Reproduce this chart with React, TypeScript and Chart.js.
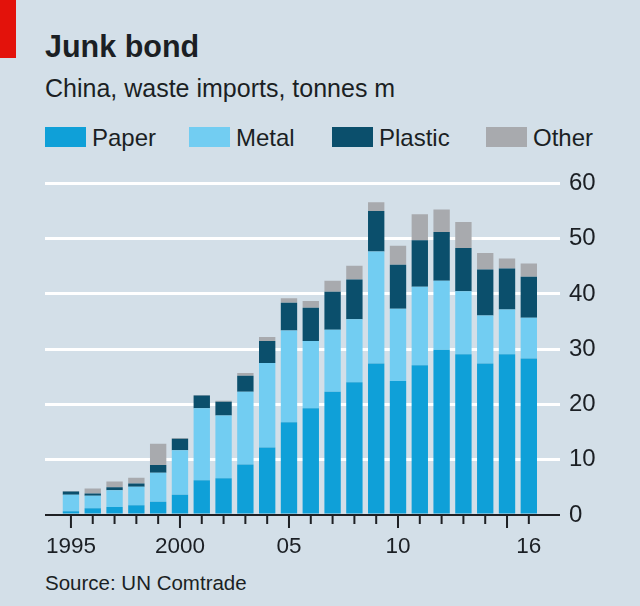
import React, { useEffect, useRef } from "react";
import { Chart, registerables } from "chart.js";

Chart.register(...registerables);

// ---- data (tonnes m) ----
const years = [
  1995, 1996, 1997, 1998, 1999, 2000, 2001, 2002, 2003, 2004, 2005,
  2006, 2007, 2008, 2009, 2010, 2011, 2012, 2013, 2014, 2015, 2016,
];
const paper = [
  0.7, 1.2, 1.45, 1.75, 2.4, 3.65, 6.3, 6.65, 9.15, 12.2, 16.8,
  19.3, 22.3, 24.0, 27.4, 24.25, 27.1, 29.9, 29.1, 27.4, 29.1, 28.3,
];
const metal = [
  2.95, 2.3, 3.05, 3.35, 5.25, 8.05, 13.0, 11.35, 13.15, 15.3, 16.6,
  12.2, 11.2, 11.4, 20.3, 13.05, 14.2, 12.5, 11.4, 8.7, 8.1, 7.4,
];
const plastic = [
  0.6, 0.4, 0.5, 0.6, 1.4, 2.1, 2.3, 2.5, 2.9, 4.0, 5.0,
  6.0, 6.9, 7.2, 7.3, 8.0, 8.4, 8.8, 7.8, 8.3, 7.4, 7.4,
];
const other = [
  0.1, 0.9, 1.05, 1.05, 3.85, 0.15, 0.1, 0.15, 0.5, 0.7, 0.8,
  1.2, 2.0, 2.5, 1.6, 3.4, 4.7, 4.1, 4.7, 3.0, 1.8, 2.4,
];
const seriesNames = ["Paper", "Metal", "Plastic", "Other"];
const yTickValues = [0, 10, 20, 30, 40, 50, 60];
const xTickLabels: Record<number, string> = {
  1995: "1995",
  2000: "2000",
  2005: "05",
  2010: "10",
  2016: "16",
};
const longTickYears = [1995, 2000, 2005, 2010, 2015];

// ---- styles ----
const FONT = "'Liberation Sans', Arial, sans-serif";
const TEXT = "#1b1f24";
const BG = "#d3dfe8";
const COLORS = ["#0fa0d8", "#72cdf2", "#0b4f6c", "#a8aaae"];

const axisPlugin = {
  id: "axisTicks",
  afterDatasetsDraw(chart: any) {
    const { ctx, chartArea, scales } = chart;
    const xs = scales.x;
    const y0 = scales.y.getPixelForValue(0);
    ctx.save();
    ctx.strokeStyle = "#1e2024";
    ctx.lineWidth = 2;
    ctx.beginPath();
    ctx.moveTo(chartArea.left, y0);
    ctx.lineTo(chartArea.right, y0);
    ctx.stroke();
    ctx.beginPath();
    years.forEach((yr) => {
      const px = xs.getPixelForValue(yr);
      const len = longTickYears.includes(yr) ? 13 : 9;
      ctx.moveTo(px, y0);
      ctx.lineTo(px, y0 + len);
    });
    ctx.stroke();
    ctx.restore();
  },
};

function baselineTop(baseline: number, size: number) {
  return baseline - size * 0.8465;
}

export default function App() {
  const canvasRef = useRef<HTMLCanvasElement | null>(null);

  useEffect(() => {
    if (!canvasRef.current) return;
    const seriesData = [paper, metal, plastic, other];
    const chart = new Chart(canvasRef.current, {
      type: "bar",
      data: {
        datasets: seriesNames.map((name, k) => ({
          label: name,
          data: years.map((yr, i) => ({ x: yr, y: seriesData[k][i] })),
          backgroundColor: COLORS[k],
          borderWidth: 0,
        })),
      },
      options: {
        animation: false,
        responsive: false,
        maintainAspectRatio: false,
        layout: { padding: { left: 45, right: 0, top: 21, bottom: 0 } },
        plugins: {
          legend: { display: false },
          tooltip: { enabled: false },
        },
        datasets: {
          bar: { barPercentage: 0.75, categoryPercentage: 1 },
        },
        scales: {
          x: {
            type: "linear",
            stacked: true,
            min: 1993.81,
            max: 2017.43,
            offset: false,
            afterBuildTicks: (s: any) => {
              s.ticks = years.map((v) => ({ value: v }));
            },
            afterFit: (s: any) => {
              s.height = 55;
            },
            ticks: {
              autoSkip: false,
              maxRotation: 0,
              padding: 18,
              color: TEXT,
              font: { family: FONT, size: 22.5 },
              callback: (v: any) => xTickLabels[Number(v)] ?? "",
            },
            grid: { display: false, drawTicks: false },
            border: { display: false },
          },
          y: {
            position: "right",
            stacked: true,
            min: 0,
            max: 60,
            afterBuildTicks: (s: any) => {
              s.ticks = yTickValues.map((v) => ({ value: v }));
            },
            afterFit: (s: any) => {
              s.width = 80;
            },
            ticks: {
              padding: 9,
              color: TEXT,
              font: { family: FONT, size: 24 },
            },
            grid: {
              color: (c: any) =>
                c.tick && c.tick.value === 0 ? "rgba(0,0,0,0)" : "#ffffff",
              lineWidth: 3,
              drawTicks: false,
            },
            border: { display: false },
          },
        },
      } as any,
      plugins: [axisPlugin],
    });
    return () => chart.destroy();
  }, []);

  const abs = (s: React.CSSProperties): React.CSSProperties => ({
    position: "absolute",
    margin: 0,
    whiteSpace: "nowrap",
    fontFamily: FONT,
    color: TEXT,
    lineHeight: 1,
    ...s,
  });

  const legendX = [45, 189, 332, 486];
  const legendLabelX = [92, 236, 379, 533];

  return (
    <div
      style={{
        position: "fixed",
        left: 0,
        top: 0,
        width: 640,
        height: 606,
        background: BG,
        overflow: "hidden",
      }}
    >
      <div
        style={{
          position: "absolute",
          left: 0,
          top: 0,
          width: 16,
          height: 58,
          background: "#e3120b",
        }}
      />
      <div
        style={abs({
          left: 45,
          top: baselineTop(57.3, 30.5),
          fontSize: 30.5,
          fontWeight: "bold",
        })}
      >
        Junk bond
      </div>
      <div style={abs({ left: 45, top: baselineTop(97, 25), fontSize: 25 })}>
        China, waste imports, tonnes m
      </div>
      {seriesNames.map((name, k) => (
        <React.Fragment key={name}>
          <div
            style={{
              position: "absolute",
              left: legendX[k],
              top: 127,
              width: 41,
              height: 20,
              background: COLORS[k],
            }}
          />
          <div
            style={abs({
              left: legendLabelX[k],
              top: baselineTop(146, 24),
              fontSize: 24,
            })}
          >
            {name}
          </div>
        </React.Fragment>
      ))}
      <canvas
        ref={canvasRef}
        width={640}
        height={410}
        style={{ position: "absolute", left: 0, top: 160, width: 640, height: 410 }}
      />
      <div
        style={abs({ left: 45, top: baselineTop(590, 20.5), fontSize: 20.5 })}
      >
        Source: UN Comtrade
      </div>
    </div>
  );
}
